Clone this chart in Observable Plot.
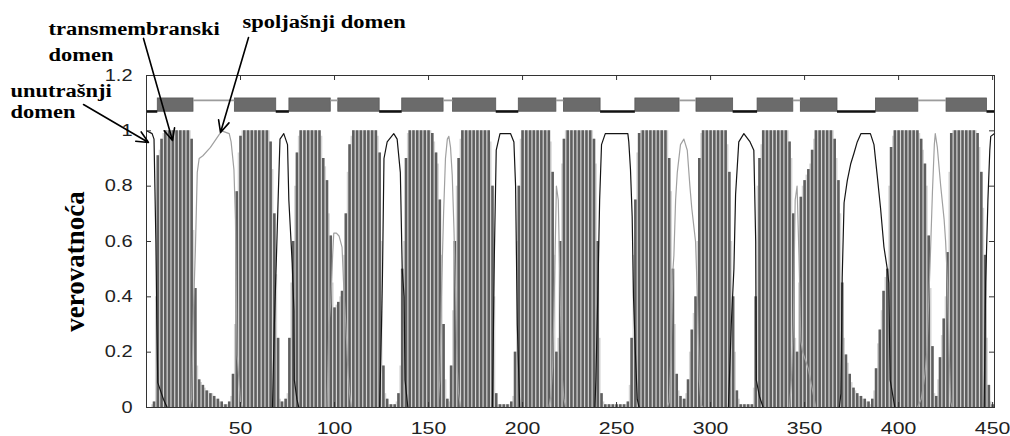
<!DOCTYPE html>
<html><head><meta charset="utf-8">
<script src="https://cdn.jsdelivr.net/npm/d3@7"></script>
<script src="https://cdn.jsdelivr.net/npm/@observablehq/plot@0.6"></script>
<style>body{margin:0;background:#fff;}</style>
</head><body><div id="chart"></div>
<script>
// TM probability per residue (residue 1..451)
const tmProb = [
0,0,0.01,0.02,0.4,0.91,0.93,0.97,0.99,1,
1,1,1,1,1,1,1,1,1,1,
1,1,1,0.97,0.64,0.43,0.15,0.1,0.09,0.08,
0.07,0.06,0.06,0.05,0.05,0.04,0.03,0.03,0.02,0.02,
0.01,0.01,0.01,0.02,0.04,0.12,0.3,0.78,0.92,0.98,
1,1,1,1,1,1,1,1,1,1,
1,1,1,1,1,0.96,0.86,0.7,0.48,0.25,
0.03,0.02,0.02,0.03,0.05,0.25,0.45,0.6,0.8,0.92,
0.98,1,1,1,1,1,1,1,1,1,
1,1,0.98,0.9,0.87,0.82,0.7,0.62,0.45,0.36,
0.37,0.38,0.4,0.42,0.55,0.7,0.85,0.95,0.98,1,
1,1,1,1,1,1,1,1,1,1,
1,1,0.98,0.92,0.6,0.15,0.05,0.03,0.01,0.01,
0.01,0.01,0.02,0.05,0.15,0.5,0.6,0.9,0.99,1,
1,1,1,1,1,1,1,1,1,1,
1,0.99,0.96,0.92,0.88,0.75,0.55,0.3,0.1,0.03,
0.02,0.15,0.35,0.6,0.8,0.9,0.97,1,1,1,
1,1,1,1,1,1,1,1,1,1,
1,1,0.96,0.8,0.4,0.05,0.01,0.01,0.01,0.01,
0.01,0.01,0.01,0.02,0.04,0.2,0.6,0.8,0.97,1,
1,1,1,1,1,1,1,1,1,1,
1,1,1,1,0.96,0.85,0.55,0.2,0.25,0.6,
0.88,0.97,1,1,1,1,1,1,1,1,
1,1,1,1,1,1,1,0.97,0.88,0.6,
0.25,0.05,0.02,0.01,0.01,0.01,0.01,0.01,0.01,0.01,
0.01,0.01,0.01,0.01,0.01,0.02,0.08,0.25,0.55,0.75,
0.92,0.99,1,1,1,1,1,1,1,1,
1,1,1,1,1,1,1,0.9,0.78,0.5,
0.3,0.12,0.06,0.04,0.03,0.03,0.05,0.1,0.2,0.28,
0.34,0.4,0.6,0.9,0.99,1,1,1,1,1,
1,1,1,1,1,1,1,1,0.95,0.85,
0.6,0.4,0.2,0.06,0.03,0.01,0.01,0.01,0.01,0.01,
0.01,0.01,0.07,0.4,0.8,0.9,0.95,1,1,1,
1,1,1,1,1,1,1,1,1,1,
1,0.96,0.9,0.7,0.25,0.2,0.45,0.76,0.8,0.82,
0.84,0.86,0.88,0.93,0.97,1,1,1,1,1,
1,1,1,1,1,0.97,0.9,0.82,0.7,0.45,
0.25,0.19,0.16,0.12,0.09,0.07,0.06,0.05,0.04,0.04,
0.03,0.03,0.02,0.02,0.01,0.03,0.06,0.14,0.23,0.28,
0.35,0.42,0.47,0.5,0.8,0.94,0.98,1,1,1,
1,1,1,1,1,1,1,1,1,1,
0.99,0.97,0.93,0.88,0.8,0.62,0.43,0.22,0.05,0.04,
0.1,0.18,0.26,0.32,0.4,0.56,0.85,0.99,1,1,
1,1,1,1,1,1,1,1,1,1,
1,0.99,0.94,0.85,0.72,0.55,0.25,0.08,0.02,0.01,0
];

// inside probability (residue, value)
const insidePts = [
[0,1],[3,0.99],[4,0.97],[5,0.6],[5.5,0.3],[6,0.09],[7,0.07],[9,0.03],[11,0],
[67,0],[68,0.3],[69,0.52],[70,0.75],[71,0.97],[73,0.99],[75,0.95],[75.7,0.75],[77.5,0.52],[78.4,0.35],[78.6,0.1],[80,0.03],[81,0],
[124,0],[125,0.3],[125.5,0.48],[126.3,0.9],[128,0.96],[131.5,0.99],[133.3,0.97],[135,0.85],[136,0.5],[137,0.4],[137.5,0.1],[139,0],
[184,0],[185,0.55],[186,0.93],[188,0.99],[193.6,0.99],[195.4,0.96],[196.3,0.8],[197.2,0.3],[198.5,0],
[238.5,0],[239,0.1],[240,0.4],[241,0.75],[242,0.95],[244,0.99],[256,0.99],[256.5,0.96],[257.4,0.86],[258.3,0.69],[259,0.4],[260,0.2],[261,0.03],[262,0],
[309.5,0],[311,0.3],[312.4,0.5],[313.3,0.77],[315,0.96],[317.7,0.99],[321,0.96],[323,0.93],[324,0.6],[324.3,0.1],[326,0.04],[328,0],
[368.5,0],[369.3,0.05],[370,0.47],[371,0.74],[372.7,0.82],[374.5,0.88],[376.3,0.92],[378,0.96],[380,0.99],[385,0.99],[386.9,0.95],[388.6,0.84],[390.4,0.72],[392.2,0.58],[394,0.5],[394.8,0.45],[395.5,0.1],[398,0],
[445.5,0],[446.3,0.45],[447.5,0.75],[448.5,0.93],[449,0.98],[451,0.99]
];

// outside probability (residue, value)
const outsidePts = [
[0,0],[23,0],[24,0.03],[25,0.36],[26,0.57],[27,0.85],[28,0.9],[30,0.91],[34,0.94],[38,0.98],[40,1],[44,0.99],[45,0.96],[46.5,0.86],[47.3,0.68],[48.2,0.19],[50,0.02],[51,0],
[96,0],[97,0.3],[98,0.38],[99,0.55],[99.6,0.63],[101,0.63],[102.4,0.62],[104,0.58],[105,0.42],[106,0.3],[107,0.15],[108,0.05],[109,0],
[155,0],[156,0.1],[157,0.45],[158,0.7],[159,0.9],[160,0.97],[160.8,0.98],[161.7,0.94],[162.6,0.84],[163.5,0.65],[164.4,0.4],[165.2,0.15],[166,0.05],[167,0],
[214,0],[215,0.04],[216,0.15],[217,0.45],[218,0.8],[219,0.75],[220,0.4],[221,0.12],[222,0.03],[223,0],
[277,0],[278,0.02],[279,0.2],[280,0.5],[280.5,0.55],[281.4,0.75],[282.3,0.85],[284,0.95],[285.8,0.97],[287.6,0.93],[289,0.8],[290,0.72],[291,0.66],[292,0.6],[293,0.4],[294,0.1],[295,0.01],[296,0],
[342,0],[343,0.1],[344,0.3],[345,0.75],[346,0.8],[347,0.55],[348,0.24],[349,0.2],[350,0.18],[352,0.14],[354,0.07],[356,0],
[410,0],[412,0.03],[413,0.07],[414,0.12],[415,0.2],[416,0.38],[417,0.57],[418,0.78],[419,0.95],[419.5,0.99],[420.6,0.94],[422.4,0.8],[424.2,0.68],[425,0.6],[426,0.45],[426.9,0.2],[427.7,0.02],[428.5,0],[451,0]
];

// predicted topology (residue ranges)
const tmSegments = [[6,25],[47,69],[76,98],[102,124],[136,158],[163,186],[198,218],[222,241.5],[260,283.5],[292.5,312],[325,344],[348,367.5],[388,410.5],[425.5,447]];
const insideSegments = [[0.5,6],[69,76],[124,136],[186,198],[241.5,260],[312,325],[367.5,388],[447,451]];
const outsideSegments = [[25,47],[98,102],[158,163],[218,222],[283.5,292.5],[344,348],[410.5,425.5]];

const xTicks = [50,100,150,200,250,300,350,400,450];
const yTicks = [0,0.2,0.4,0.6,0.8,1,1.2];
const yTickLabels = ["0","0.2","0.4","0.6","0.8","1","1.2"];

const yTitle = "verovatnoća";
const annotTexts = ["transmembranski","domen","spoljašnji domen","unutrašnji","domen"];
const annotX = [-52.13,-52.13,51.06,-72.34,-72.34];
const annotY = [1.345,1.254,1.370,1.124,1.045];
const arrowFrom = [[-33.5,1.095],[-1.6,1.334],[54.26,1.337]];
const arrowTo = [[1.06,0.958],[13.83,0.965],[39.36,0.994]];

const residues = tmProb.map((p,i)=>({r:i+1,p}));
const annots = annotTexts.map((t,i)=>({text:t,x:annotX[i],y:annotY[i]}));
const arrows = arrowFrom.map((f,i)=>({x1:f[0],y1:f[1],x2:arrowTo[i][0],y2:arrowTo[i][1]}));
const yTickData = yTicks.map((v,i)=>({v,label:yTickLabels[i]}));

const BAND_TM = [1.069,1.117], BAND_IN = 1.070, BAND_OUT = 1.110;

const plot = Plot.plot({
  width:1010, height:436,
  marginLeft:146, marginRight:16, marginTop:75, marginBottom:29,
  x:{domain:[0,451], axis:null},
  y:{domain:[0,1.2], axis:null},
  style:{fontFamily:"Liberation Sans", background:"white", overflow:"visible"},
  marks:[
    // impulses: light base for every residue, darker stroke for alternate residues (as in the scanned print)
    Plot.ruleX(residues,{x:"r", y1:0, y2:"p", stroke:"#d6d6d6", strokeWidth:1.9}),
    Plot.ruleX(residues,{filter:d=>d.r%2===0, x:"r", y1:0, y2:"p", stroke:"#5f5f5f", strokeWidth:2.6}),
    Plot.line(outsidePts,{x:d=>d[0], y:d=>d[1], stroke:"#a0a0a0", strokeWidth:1.2}),
    Plot.line(insidePts,{x:d=>d[0], y:d=>d[1], stroke:"#151515", strokeWidth:1.2}),
    Plot.rect(tmSegments,{x1:d=>d[0], x2:d=>d[1], y1:BAND_TM[0], y2:BAND_TM[1], fill:"#6b6b6b", stroke:"#585858", strokeWidth:0.8}),
    Plot.ruleY(insideSegments,{x1:d=>d[0], x2:d=>d[1], y:BAND_IN, stroke:"#111", strokeWidth:2.6}),
    Plot.ruleY(outsideSegments,{x1:d=>d[0], x2:d=>d[1], y:BAND_OUT, stroke:"#9c9c9c", strokeWidth:1.8}),
    Plot.frame({stroke:"#333", strokeWidth:1}),
    Plot.tickY(yTicks,{y:d=>d, insetRight:843, stroke:"#333"}),
    Plot.tickY(yTicks,{y:d=>d, insetLeft:843, stroke:"#333"}),
    Plot.tickX(xTicks,{x:d=>d, insetBottom:327, stroke:"#333"}),
    Plot.tickX(xTicks,{x:d=>d, insetTop:327, stroke:"#333"}),
    Plot.text(yTickData,{y:"v", text:"label", frameAnchor:"left", textAnchor:"end", dx:-14, fontSize:16, fill:"#222"}),
    Plot.text(xTicks,{x:d=>d, text:d=>String(d), frameAnchor:"bottom", lineAnchor:"top", dy:14, fontSize:17, fill:"#222"}),
    Plot.text([{t:yTitle,x:-37.77,y:0.528}],{x:"x", y:"y", text:"t", rotate:-90, fontFamily:"Liberation Serif", fontWeight:"bold", fontSize:27, fill:"#000"}),
    Plot.text(annots,{x:"x", y:"y", text:"text", textAnchor:"start", lineAnchor:"bottom", fontFamily:"Liberation Serif", fontWeight:"bold", fontSize:18, fill:"#000"}),
    Plot.arrow(arrows,{x1:"x1", y1:"y1", x2:"x2", y2:"y2", stroke:"#000", strokeWidth:1.6, headLength:12, headAngle:50})
  ]
});
document.getElementById("chart").append(plot);
// mimic the horizontally stretched lettering of the original figure
plot.querySelectorAll("text").forEach(t=>{
  if (t.textContent === yTitle) return;
  const len = t.getComputedTextLength();
  if (len > 0) { t.setAttribute("textLength", (len*1.25).toFixed(1)); t.setAttribute("lengthAdjust","spacingAndGlyphs"); }
});
</script>
</body></html>
